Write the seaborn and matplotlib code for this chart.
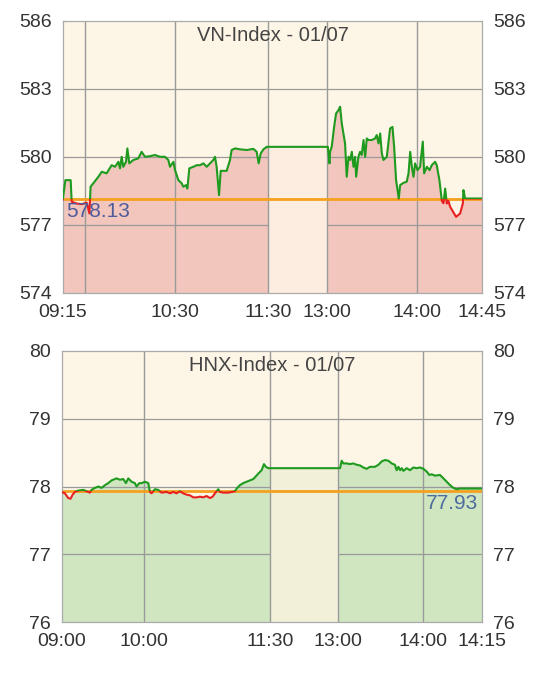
import matplotlib
matplotlib.use("Agg")
import matplotlib.pyplot as plt
from matplotlib.patches import Rectangle
import seaborn as sns
import numpy as np

sns.set_style("white")
plt.rcParams['font.family'] = ['Liberation Sans', 'DejaVu Sans']

# ---- VN-Index (x = trading minutes from 09:15, lunch compressed) ----
vn_x = [0, 1.8, 5.3, 6.0, 9.3, 12.6, 16.0, 17.8, 18.6, 20.4, 23.8, 26.0, 29.3, 32.6,
        34.9, 37.1, 38.2, 39.3, 40.4, 42.2, 43.1, 44.4, 47.1, 50.4, 52.6, 54.9, 58.2,
        61.5, 64.9, 68.2, 70.4, 71.5, 73.8, 74.9, 77.1, 79.3, 80.4, 82.2, 83.1, 84.4,
        87.1, 89.3, 91.5, 93.8, 96.0, 98.2, 100.4, 101.5, 102.6, 104.2, 105.3, 109.3,
        111.5, 112.6, 114.9, 118.2, 122.7, 127.1, 129.3, 130.6, 132.0, 133.8, 136.0,
        176.7, 177.8, 178.2, 179.3, 180.9, 182.2, 183.8, 184.9, 186.0, 187.1, 188.2,
        189.3, 190.5, 191.6, 192.7, 193.8, 194.9, 195.6, 197.1, 198.2, 199.3, 200.5,
        201.6, 202.7, 203.8, 206.0, 208.2, 209.3, 210.5, 211.6, 212.7, 213.8, 216.0,
        218.2, 219.8, 220.9, 222.2, 224.0, 224.9, 227.1, 229.3, 230.5, 231.6, 232.7,
        233.8, 234.9, 236.5, 238.2, 240.0, 240.9, 242.7, 244.5, 246.0, 248.2, 249.3,
        251.1, 252.7, 253.8, 254.9, 256.0, 257.1, 258.2, 260.4, 262.2, 264.9, 266.7,
        267.1, 268.2, 279.7]
vn_y = [578.09, 578.97, 578.97, 578.02, 577.94, 577.91, 577.98, 577.50, 578.68, 578.83,
        579.12, 579.34, 579.27, 579.63, 579.56, 579.78, 579.49, 580.00, 579.56, 579.78,
        580.37, 579.71, 579.86, 579.93, 580.22, 580.00, 580.03, 580.08, 580.00, 580.00,
        579.86, 579.56, 579.78, 579.41, 578.97, 578.83, 578.68, 578.75, 578.60, 579.49,
        579.56, 579.63, 579.63, 579.71, 579.56, 579.71, 579.86, 580.00, 579.56, 578.31,
        579.38, 579.38, 579.86, 580.30, 580.37, 580.33, 580.30, 580.35, 580.22, 579.71,
        580.15, 580.33, 580.44,
        580.44, 579.71, 580.22, 580.44, 581.32, 581.91, 582.06, 582.21, 581.47, 581.03,
        580.59, 579.12, 580.00, 579.86, 580.22, 579.56, 580.00, 579.12, 580.00, 580.22,
        580.08, 580.74, 580.00, 580.81, 580.74, 580.74, 580.81, 580.96, 580.59, 581.03,
        580.15, 579.86, 580.00, 581.25, 581.32, 580.44, 578.97, 578.15, 578.75, 578.85,
        578.90, 579.27, 580.22, 579.56, 579.12, 579.71, 579.41, 579.56, 580.67, 579.27,
        579.56, 579.41, 579.63, 579.78, 579.63, 578.97, 578.05, 577.95, 578.60, 577.94,
        578.05, 577.80, 577.55, 577.35, 577.50, 577.94, 578.53, 578.16, 578.16]
vn_ref = 578.13
vn_lunch = (136.7, 176.0)
vn_ticks = [0, 15, 75, 136.7, 176.0, 236.4, 279.7]
vn_labels = ["09:15", "", "10:30", "11:30", "13:00", "14:00", "14:45"]
vn_yticks = [574, 577, 580, 583, 586]

# ---- HNX-Index (x = trading minutes from 09:00, lunch compressed) ----
hnx_x = [0, 2.4, 4.8, 6.5, 8.0, 9.6, 12.1, 15.7, 18.1, 20.5, 21.7, 24.1, 26.6, 29.0,
         31.4, 33.8, 36.2, 39.8, 42.2, 44.7, 46.6, 48.3, 50.7, 53.1, 54.3, 56.3, 58.0,
         60.4, 62.8, 64.0, 65.2, 67.6, 70.0, 72.4, 76.1, 78.5, 80.9, 83.3, 85.7, 88.1,
         90.6, 93.0, 95.4, 97.8, 100.2, 102.6, 105.0, 107.5, 109.4, 111.1, 113.5, 114.7,
         117.1, 120.8, 123.2, 125.6, 126.8, 129.2, 131.6, 135.2, 138.9, 142.5, 144.9,
         146.6, 148.0, 149.7,
         200.0, 201.7, 202.9, 204.1, 206.5, 208.9, 211.3, 213.8, 216.2, 218.6, 221.0,
         223.4, 227.0, 229.5, 231.9, 234.3, 236.7, 239.1, 241.5, 242.7, 244.0, 245.2,
         246.4, 247.6, 250.0, 252.4, 254.8, 257.2, 259.7, 262.1, 264.5, 266.4, 268.1,
         270.5, 274.1, 276.6, 279.0, 281.4, 283.8, 286.2, 288.6, 291.0, 304.8]
hnx_y = [77.92, 77.90, 77.83, 77.82, 77.88, 77.92, 77.94, 77.95, 77.93, 77.91, 77.95,
         77.98, 78.00, 77.98, 78.02, 78.05, 78.09, 78.12, 78.10, 78.11, 78.05, 78.12,
         78.07, 78.05, 78.00, 78.05, 78.05, 78.07, 78.05, 77.92, 77.90, 77.96, 77.95,
         77.91, 77.92, 77.90, 77.92, 77.90, 77.93, 77.90, 77.88, 77.87, 77.84, 77.84,
         77.85, 77.84, 77.86, 77.83, 77.85, 77.90, 77.96, 77.92, 77.91, 77.91, 77.92,
         77.93, 77.97, 78.02, 78.05, 78.08, 78.11, 78.19, 78.24, 78.33, 78.29, 78.27,
         78.27, 78.27, 78.38, 78.34, 78.34, 78.33, 78.34, 78.32, 78.31, 78.28, 78.26,
         78.29, 78.29, 78.32, 78.37, 78.39, 78.38, 78.34, 78.32, 78.24, 78.29, 78.24,
         78.27, 78.23, 78.27, 78.24, 78.28, 78.27, 78.28, 78.26, 78.22, 78.17, 78.18,
         78.16, 78.17, 78.12, 78.07, 78.02, 77.98, 77.96, 77.97, 77.97, 77.97]
hnx_ref = 77.93
hnx_lunch = (150.9, 200.0)
hnx_ticks = [0, 60, 150.9, 200.0, 261.6, 304.8]
hnx_labels = ["09:00", "10:00", "11:30", "13:00", "14:00", "14:15"]
hnx_yticks = [76, 77, 78, 79, 80]

BG = '#FDF5E6'
GRID = '#9a9a9a'
TXT = '#333333'


def draw_index(ax, x, y, ref, lunch, ticks, labels, yticks, title,
               fill, lunch_fill, ref_text, ref_side):
    x = np.array(x)
    y = np.array(y)
    ymin, ymax = yticks[0], yticks[-1]
    ax.set_facecolor(BG)
    ax.set_xlim(x[0], x[-1])
    ax.set_ylim(ymin, ymax)

    # vùng dưới đường giá
    ax.fill_between(x, y, ymin, color=fill, lw=0, zorder=0.2)
    for yt in yticks[1:-1]:
        ax.axhline(yt, color=GRID, lw=0.9, zorder=0.6)
    xs = np.linspace(lunch[0], lunch[1], 60)
    ax.fill_between(xs, np.interp(xs, x, y), ymin, color=lunch_fill, lw=0, zorder=0.8)
    for xt in ticks[1:-1]:
        ax.axvline(xt, color=GRID, lw=1.0, zorder=0.9)

    ax.axhline(ref, color='#F5A01E', lw=2.0, zorder=2)

    # xanh trên giá tham chiếu, đỏ dưới
    sns.lineplot(x=x, y=y, ax=ax, color='#1E9A1E', lw=1.5, estimator=None, sort=False)
    sns.lineplot(x=x, y=y, ax=ax, color='#E82020', lw=1.5, estimator=None, sort=False)
    up, down = ax.lines[-2], ax.lines[-1]
    span = ymax - ymin
    up.set_clip_path(Rectangle((x[0], ref), x[-1] - x[0], span * 2, transform=ax.transData))
    down.set_clip_path(Rectangle((x[0], ref - span * 2), x[-1] - x[0], span * 2,
                                 transform=ax.transData))
    up.set_zorder(3)
    down.set_zorder(3)

    ax.set_xticks(ticks)
    ax.set_xticklabels(labels)
    ax.set_yticks(yticks)
    ax.tick_params(axis='both', length=0, labelsize=14, colors=TXT)
    ax.tick_params(axis='x', pad=8)
    ax.tick_params(axis='y', pad=8, labelleft=True, labelright=True)
    ax.set_xlabel('')
    ax.set_ylabel('')
    for sp in ax.spines.values():
        sp.set_color('#aaaaaa')
        sp.set_linewidth(0.9)

    ax.text(0.5, 0.945, title, transform=ax.transAxes, ha='center', va='center',
            fontsize=14.5, color='#444444', zorder=5)
    if ref_side == 'left':
        ax.text(x[0] + 2, ref - span * 0.01, ref_text, ha='left', va='top',
                fontsize=15, color='#4E5C9C', zorder=5)
    else:
        ax.text(x[-1] - 3, ref - span * 0.01, ref_text, ha='right', va='top',
                fontsize=15, color='#4E6C9C', zorder=5)


fig = plt.figure(figsize=(5.5, 6.73), dpi=100)
fig.patch.set_facecolor('white')
ax1 = fig.add_axes([0.114, 0.565, 0.763, 0.404])
ax2 = fig.add_axes([0.112, 0.0753, 0.765, 0.4036])

draw_index(ax1, vn_x, vn_y, vn_ref, vn_lunch, vn_ticks, vn_labels, vn_yticks,
           'VN-Index - 01/07', '#F2C6BC', '#FCEDE0', '578.13', 'left')
draw_index(ax2, hnx_x, hnx_y, hnx_ref, hnx_lunch, hnx_ticks, hnx_labels, hnx_yticks,
           'HNX-Index - 01/07', '#CFE6C0', '#F3F0DA', '77.93', 'right')

fig.savefig('out.png', dpi=100)
